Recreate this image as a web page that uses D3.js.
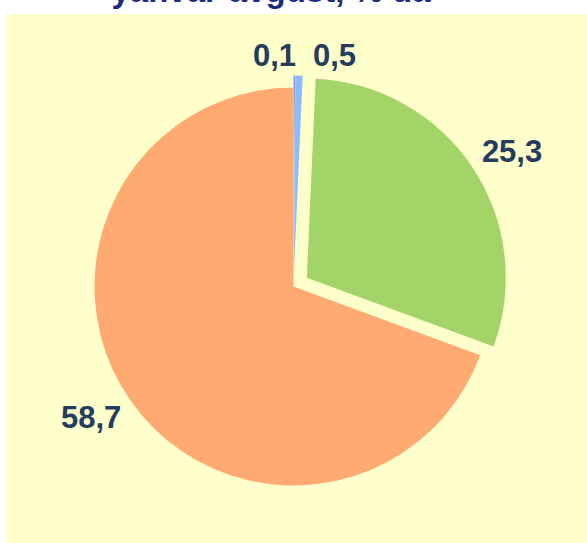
<!doctype html>
<html lang="uz">
<head>
  <meta charset="utf-8">
  <title>yanvar-avgust, % da</title>
  <style>
    body { margin: 0; background: #fff; }
    svg { display: block; }
    .title {
      font-family: "Liberation Sans", Arial, sans-serif;
      font-weight: bold;
      font-size: 33px;
      fill: #1c2a82;
    }
    .lbl {
      font-family: "Liberation Sans", Arial, sans-serif;
      font-weight: bold;
      font-size: 31px;
      fill: #243c5e;
    }
  </style>
</head>
<body>
  <div id="chart"></div>
  <script src="https://cdn.jsdelivr.net/npm/d3@7"></script>
  <script>
(function() {

  // slice values, clockwise from 12 o'clock
  var values = [0.1, 0.5, 25.3, 58.7];
  var labels = ["0,1", "0,5", "25,3", "58,7"];
  var colors = ["#7f93f2", "#8cbcff", "#a2d467", "#ffaa70"];
  var explode = [12, 12, 16, 0];

  var width = 587;
  var height = 543;
  var cx = 293.5, cy = 286.5, r = 199;
  var labelTurn = 2 * Math.PI / 180;

  var svg = d3.select("#chart")
      .append("svg")
      .attr("width", width)
      .attr("height", height);

  // yellow plot panel
  svg.append("rect")
      .attr("x", 7).attr("y", 14)
      .attr("width", width - 7).attr("height", height - 14)
      .attr("fill", "#ffffcc");

  // second line of the title, first line is cut off above
  svg.append("text")
      .attr("class", "title")
      .attr("x", 271).attr("y", 2)
      .attr("text-anchor", "middle")
      .text("yanvar-avgust, % da");

  var pie = d3.pie().sort(null).value(function(d) { return d; });
  var arcs = pie(values);
  var arc = d3.arc().innerRadius(0).outerRadius(r);

  function mid(d) { return (d.startAngle + d.endAngle) / 2; }
  function shift(d, i) {
    var a = mid(d);
    return [cx + explode[i] * Math.sin(a), cy - explode[i] * Math.cos(a)];
  }

  var g = svg.append("g");

  g.selectAll("path")
      .data(arcs)
      .enter()
      .append("path")
      .attr("transform", function(d, i) {
        var p = shift(d, i);
        return "translate(" + p[0] + "," + p[1] + ")";
      })
      .attr("d", arc)
      .attr("fill", function(d, i) { return colors[i]; });

  // label positions, small slices sit closer to the rim
  var pos = arcs.map(function(d, i) {
    var a = mid(d) + labelTurn;
    var p = shift(d, i);
    var small = (d.endAngle - d.startAngle) < 0.1;
    var lr = small ? r + 20 : r + 42;
    return { x: p[0] + lr * Math.sin(a), y: p[1] - lr * Math.cos(a), w: 46 };
  });

  // push overlapping labels apart horizontally
  for (var k = 0; k < 50; k++) {
    for (var i = 0; i < pos.length; i++) {
      for (var j = i + 1; j < pos.length; j++) {
        var a = pos[i], b = pos[j];
        if (Math.abs(a.y - b.y) < 30) {
          var need = (a.w + b.w) / 2 + 14 - Math.abs(b.x - a.x);
          if (need > 0) {
            var s = b.x >= a.x ? 1 : -1;
            a.x -= s * need / 2;
            b.x += s * need / 2;
          }
        }
      }
    }
  }

  svg.selectAll(".lbl")
      .data(arcs)
      .enter()
      .append("text")
      .attr("class", "lbl")
      .attr("x", function(d, i) { return pos[i].x; })
      .attr("y", function(d, i) { return pos[i].y; })
      .attr("text-anchor", "middle")
      .attr("dominant-baseline", "central")
      .text(function(d, i) { return labels[i]; });

})();
  </script>
</body>
</html>
